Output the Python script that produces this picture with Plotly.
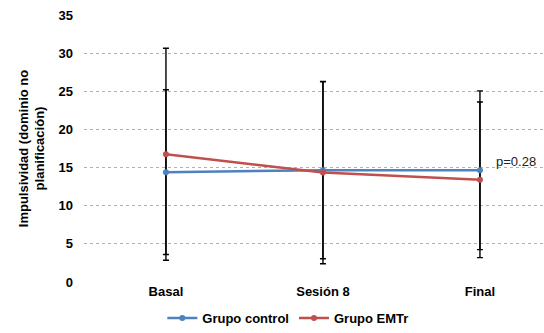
import plotly.graph_objects as go

categories = ["Basal", "Sesión 8", "Final"]
control_mean = [14.4, 14.65, 14.65]
control_err = [10.8, 11.6, 10.4]
emtr_mean = [16.75, 14.35, 13.4]
emtr_err = [13.9, 11.95, 10.2]
y_ticks = [0, 5, 10, 15, 20, 25, 30, 35]

x_idx = list(range(len(categories)))
blue = "#4F81BD"
red = "#C0504D"
font_family = "Liberation Sans, Arial, sans-serif"

fig = go.Figure()

# error bars (drawn first, below lines)
for mean, err in [(control_mean, control_err), (emtr_mean, emtr_err)]:
    fig.add_trace(go.Scatter(
        x=x_idx, y=mean, mode="markers",
        marker=dict(size=1, color="rgba(0,0,0,0)"),
        error_y=dict(type="data", array=err, visible=True, color="black",
                     thickness=1.4, width=3),
        showlegend=False, hoverinfo="skip"))

fig.add_trace(go.Scatter(
    x=x_idx, y=control_mean, mode="lines+markers", name="Grupo control",
    line=dict(color=blue, width=2.5), marker=dict(size=6, color=blue)))
fig.add_trace(go.Scatter(
    x=x_idx, y=emtr_mean, mode="lines+markers", name="Grupo EMTr",
    line=dict(color=red, width=2.5), marker=dict(size=6, color=red)))

fig.add_annotation(x=2.09, y=15.8, xref="x", yref="y", text="p=0.28",
                   showarrow=False, xanchor="left", yanchor="middle",
                   font=dict(family=font_family, size=13, color="#222222"))

bold13 = dict(family=font_family, size=13, color="black", weight="bold")

fig.update_layout(
    width=544, height=333,
    margin=dict(l=84, r=0, t=15, b=51, autoexpand=False),
    paper_bgcolor="white", plot_bgcolor="white",
    font=dict(family=font_family, size=13, color="black"),
    legend=dict(orientation="h", xref="container", yref="container",
                x=0.53, xanchor="center", y=-0.015, yanchor="bottom",
                font=bold13, itemwidth=30, tracegroupgap=0, traceorder="normal",
                bgcolor="rgba(0,0,0,0)"),
    xaxis=dict(range=[-0.522, 2.408], tickmode="array", tickvals=x_idx,
               ticktext=categories, showgrid=False, zeroline=False, showline=False,
               tickfont=bold13, automargin=False),
    yaxis=dict(range=[0, 35], tickmode="array", tickvals=y_ticks,
               showgrid=True, gridcolor="#B0B0B0", griddash="dot", gridwidth=1,
               zeroline=False, showline=False, ticklabelstandoff=10, automargin=False,
               tickfont=bold13,
               title=dict(text="Impulsividad (dominio no<br>planificación)",
                          font=bold13, standoff=10)),
)

fig.write_html("out.html", config={"displayModeBar": False},
               post_script="document.body.style.margin='0';document.body.style.overflow='hidden';")
